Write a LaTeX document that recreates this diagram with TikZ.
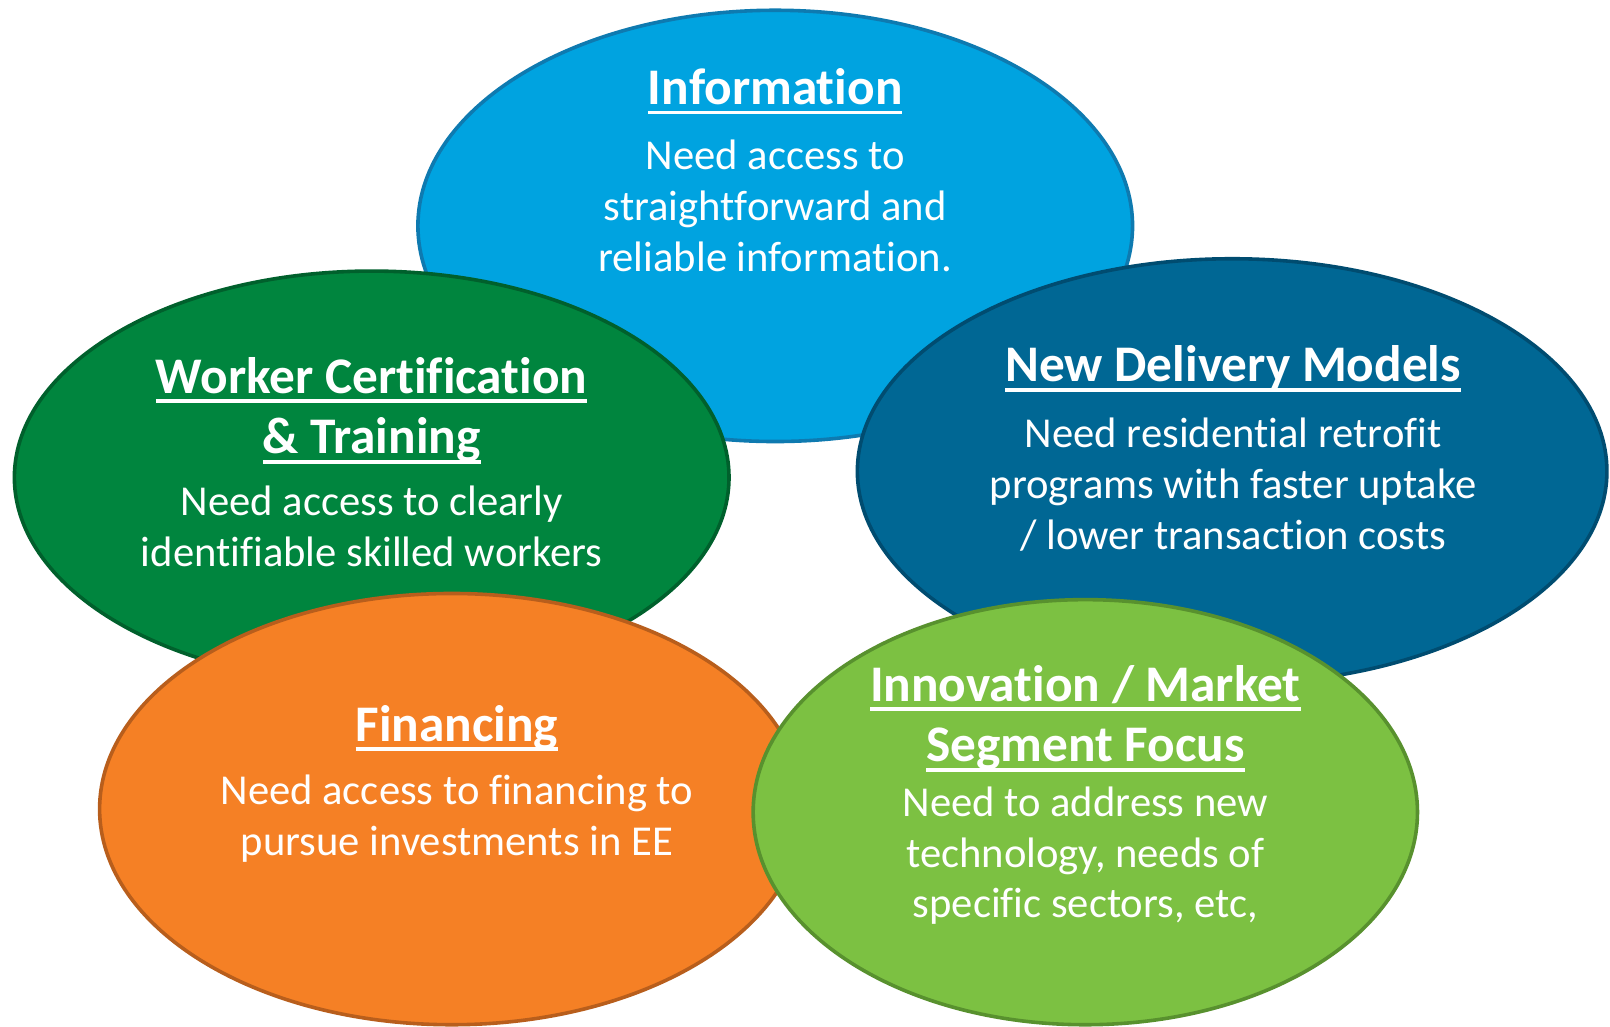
\documentclass[tikz,border=0pt]{standalone}
\usepackage{fontspec}
\setmainfont{Carlito}[Ligatures={NoCommon}]
\usetikzlibrary{shapes.geometric}
\definecolor{infofill}{RGB}{0,163,224}
\definecolor{infoline}{RGB}{14,122,176}
\definecolor{workfill}{RGB}{0,133,62}
\definecolor{workline}{RGB}{0,96,44}
\definecolor{delfill}{RGB}{0,103,148}
\definecolor{delline}{RGB}{0,76,112}
\definecolor{finfill}{RGB}{245,128,37}
\definecolor{finline}{RGB}{184,94,28}
\definecolor{innfill}{RGB}{124,193,66}
\definecolor{innline}{RGB}{88,145,46}
\newcommand\ulx[1]{\setbox0\hbox{#1}\rlap{\rule[-9.5pt]{\wd0}{3.7pt}}\box0}
\tikzset{
  blob/.style={ellipse, draw, line width=3.5pt, inner sep=0pt, outer sep=0pt},
  ttl/.style={text=white, anchor=base, align=center, inner sep=0pt,
    font=\fontsize{50}{59}\selectfont\bfseries},
  bdy/.style={text=white, anchor=base, align=center, inner sep=0pt,
    font=\fontsize{41.5}{49.5}\selectfont}
}
\begin{document}
\begin{tikzpicture}[x=1pt,y=-1pt]
\useasboundingbox (0,0) rectangle (1568,1000);
% ellipses
\node[blob, fill=infofill, draw=infoline, minimum width=696pt, minimum height=420pt] (info) at (755,220) {};
\node[blob, fill=workfill, draw=workline, minimum width=696pt, minimum height=402pt] (work) at (362,465) {};
\node[blob, fill=delfill, draw=delline, minimum width=730pt, minimum height=414pt] (del) at (1200,459) {};
\node[blob, fill=finfill, draw=finline, minimum width=686pt, minimum height=420pt] (fin) at (440,788) {};
\node[blob, fill=innfill, draw=innline, minimum width=647pt, minimum height=414pt] (inn) at (1057,791) {};
% Information (anchor=base is the baseline of the last line)
\node[ttl] (infot) at (755,102) {\ulx{Information}};
\node[bdy] (infob) at (755,264) {Need access to\\straightforward and\\reliable information.};
% Worker
\node[ttl] (workt) at (362,442) {\ulx{Worker Certification}\\\ulx{\& Training}};
\node[bdy] (workb) at (362,552) {Need access to clearly\\identifiable skilled workers};
% New Delivery
\node[ttl] (delt) at (1201,372) {\ulx{New Delivery Models}};
\node[bdy] (delb) at (1201,535) {Need residential retrofit\\programs with faster uptake\\/ lower transaction costs};
% Financing
\node[ttl] (fint) at (445,722) {\ulx{Financing}};
\node[bdy] (finb) at (445,833) {Need access to financing to\\pursue investments in EE};
% Innovation
\node[ttl] (innt) at (1057,742) {\ulx{Innovation / Market}\\\ulx{Segment Focus}};
\node[bdy] (innb) at (1057,894) {Need to address new\\technology, needs of\\specific sectors, etc,};
\end{tikzpicture}
\end{document}
